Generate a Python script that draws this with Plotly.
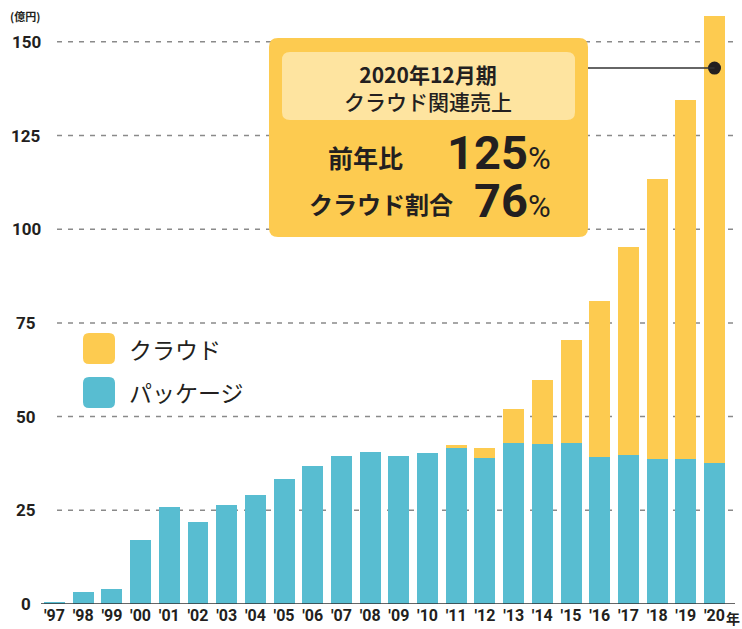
import plotly.graph_objects as go

years = ["'97", "'98", "'99", "'00", "'01", "'02", "'03", "'04", "'05", "'06", "'07", "'08",
         "'09", "'10", "'11", "'12", "'13", "'14", "'15", "'16", "'17", "'18", "'19", "'20"]
package = [0.6, 3.2, 4.0, 17.1, 25.9, 21.9, 26.4, 29.1, 33.4, 36.8, 39.5, 40.6,
           39.5, 40.3, 41.6, 39.0, 43.0, 42.7, 43.0, 39.2, 39.8, 38.7, 38.7, 37.6]
cloud = [0, 0, 0, 0, 0, 0, 0, 0, 0, 0, 0, 0,
         0, 0, 0.8, 2.6, 9.0, 17.1, 27.5, 41.7, 55.5, 74.7, 95.8, 119.3]
y_ticks = [0, 25, 50, 75, 100, 125, 150]
legend_names = ["クラウド", "パッケージ"]
callout_value = 143.0

YELLOW = "#FDCB50"
TEAL = "#58BDD1"
LIGHT = "#FEE4A0"
TEXT = "#231F20"

W, H = 742, 629
ML, MR, MT, MB = 41, 12, 10, 25
PW, PH = W - ML - MR, H - MT - MB
XR = [-0.47, 23.54]
YR = [0, 158.5]

def px(x):
    return (x - ML) / PW

def py(y):
    return (H - MB - y) / PH

def ydata_px(v):
    return H - MB - v / (YR[1] - YR[0]) * PH

def xdata(xp):
    return XR[0] + (xp - ML) / PW * (XR[1] - XR[0])

def rrect(x0, y0, x1, y1, r):
    def P(x, y):
        return f"{px(x):.5f},{py(y):.5f}"
    return (f"M{P(x0 + r, y0)} L{P(x1 - r, y0)} Q{P(x1, y0)} {P(x1, y0 + r)} "
            f"L{P(x1, y1 - r)} Q{P(x1, y1)} {P(x1 - r, y1)} L{P(x0 + r, y1)} "
            f"Q{P(x0, y1)} {P(x0, y1 - r)} L{P(x0, y0 + r)} Q{P(x0, y0)} {P(x0 + r, y0)} Z")

xs = list(range(len(years)))
fig = go.Figure()
fig.add_trace(go.Bar(x=xs, y=package, marker=dict(color=TEAL, line=dict(width=0)),
                     name=legend_names[1], showlegend=False, hoverinfo="skip"))
fig.add_trace(go.Bar(x=xs, y=cloud, marker=dict(color=YELLOW, line=dict(width=0)),
                     name=legend_names[0], showlegend=False, hoverinfo="skip"))

shapes = []
for t in y_ticks[1:]:
    shapes.append(dict(type="line", xref="paper", yref="y", x0=px(57), x1=px(735), y0=t, y1=t,
                       line=dict(color="#8a8a8a", width=1.5, dash="5px,6px"), layer="below"))
shapes.append(dict(type="line", xref="paper", yref="y", x0=0, x1=px(735), y0=0, y1=0,
                   line=dict(color="#333333", width=1.5), layer="above"))
shapes.append(dict(type="path", xref="paper", yref="paper", path=rrect(269, 38, 588, 237, 9),
                   fillcolor=YELLOW, line=dict(width=0), layer="above"))
shapes.append(dict(type="path", xref="paper", yref="paper", path=rrect(282, 52, 575, 120, 8),
                   fillcolor=LIGHT, line=dict(width=0), layer="above"))
shapes.append(dict(type="line", xref="x", yref="y", x0=xdata(588), x1=23, y0=callout_value, y1=callout_value,
                   line=dict(color="#333333", width=1.5), layer="above"))
shapes.append(dict(type="path", xref="paper", yref="paper", path=rrect(83, 333, 115, 364, 6),
                   fillcolor=YELLOW, line=dict(width=0)))
shapes.append(dict(type="path", xref="paper", yref="paper", path=rrect(83, 377, 115, 408, 6),
                   fillcolor=TEAL, line=dict(width=0)))

fig.add_trace(go.Scatter(x=[23], y=[callout_value], mode="markers",
                         marker=dict(color=TEXT, size=13), showlegend=False, hoverinfo="skip"))

JP = "Noto Sans CJK JP"
NUM = "Roboto"

def A(x, y, text, size, family=JP, xanchor="center"):
    return dict(xref="paper", yref="paper", x=px(x), y=py(y), text=text, showarrow=False,
                xanchor=xanchor, yanchor="middle", font=dict(family=family, size=size, color=TEXT))

ann = []
for t in y_ticks:
    ann.append(A(26, ydata_px(t), f"<b>{t}</b>", 17, NUM))
ann.append(A(8, 16, "<b>(億円)</b>", 11, JP, "left"))
ann.append(A(742, 618, "<b>年</b>", 14, JP, "right"))
ann.append(A(127, 349, legend_names[0], 23, JP, "left"))
ann.append(A(127, 392, legend_names[1], 23, JP, "left"))
ann.append(A(428, 87.5, "<b>2020年12月期</b><br><span style='font-weight:500'>クラウド関連売上</span>", 21, JP))
ann.append(A(365, 157, "<b>前年比</b>", 25, JP))
ann.append(A(381, 204, "<b>クラウド割合</b>", 24, JP))
ann.append(A(553, 152, "<b>125</b><span style='font-size:31px'>%</span>", 47, NUM, "right"))
ann.append(A(553, 200, "<b>76</b><span style='font-size:31px'>%</span>", 47, NUM, "right"))

fig.update_layout(
    width=W, height=H, margin=dict(l=ML, r=MR, t=MT, b=MB, autoexpand=False),
    barmode="stack", bargap=0.27,
    plot_bgcolor="white", paper_bgcolor="white",
    shapes=shapes, annotations=ann, showlegend=False,
    xaxis=dict(range=XR, tickmode="array", tickvals=xs, ticktext=years, showgrid=False, zeroline=False,
               showline=False, ticks="", automargin=False, ticklabelstandoff=0,
               tickfont=dict(family=NUM, size=16, color=TEXT, weight="bold"),
               fixedrange=True),
    yaxis=dict(range=YR, showgrid=False, zeroline=False, showticklabels=False, ticks="",
               automargin=False, fixedrange=True),
)
fig.write_html("out.html", config={"displayModeBar": False},
               post_script="document.body.style.margin='0px';document.body.style.overflow='hidden';")
